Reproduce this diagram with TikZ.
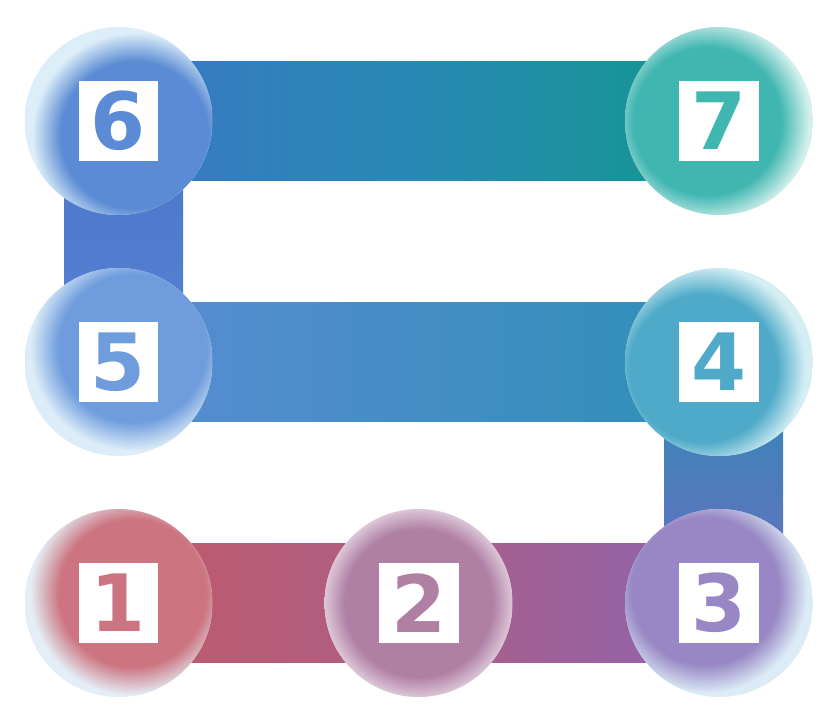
\documentclass[tikz,border=0pt]{standalone}
\usepackage{fontspec}
\newfontfamily\digitfont{DejaVu Sans}
\usetikzlibrary{calc}

\definecolor{c1in}{HTML}{CC7580}\definecolor{c1out}{HTML}{E4EEF6}
\definecolor{c2in}{HTML}{B07FA4}\definecolor{c2out}{HTML}{EEE4EC}
\definecolor{c3in}{HTML}{9887C4}\definecolor{c3out}{HTML}{DCECF6}
\definecolor{c4in}{HTML}{4EAAC8}\definecolor{c4out}{HTML}{D4EEF4}
\definecolor{c5in}{HTML}{6E9CDC}\definecolor{c5out}{HTML}{DCECF8}
\definecolor{c6in}{HTML}{5B8BD4}\definecolor{c6out}{HTML}{DCEEF8}
\definecolor{c7in}{HTML}{40B6B0}\definecolor{c7out}{HTML}{D4F0EE}
\colorlet{gin}{c6in}\colorlet{gout}{c6out}

\pgfdeclareradialshading[gin,gout]{glass}{\pgfpoint{0bp}{0bp}}{color(0bp)=(gin); color(18bp)=(gin); color(25bp)=(gout); color(50bp)=(gout)}

\begin{document}
\begin{tikzpicture}[x=0.02cm, y=-0.02cm,
  ball/.style n args={4}{circle, minimum size=3.76cm, inner sep=0pt,
    path picture={\colorlet{gin}{#1}\colorlet{gout}{#2}
      \fill[gout] (path picture bounding box.south west) rectangle (path picture bounding box.north east);
      \shade[shading=glass] ($(path picture bounding box.center)+(#3,#4)$) circle [radius=2.05cm];}},
  digitbox/.style={fill=white, minimum size=1.6cm, inner sep=0pt,
    font=\digitfont\bfseries\fontsize{45}{45}\selectfont}]
  \useasboundingbox (0,0) rectangle (837,725);

  \coordinate (p1) at (118.5,603);
  \coordinate (p2) at (418.5,603);
  \coordinate (p3) at (719,603);
  \coordinate (p4) at (719,362);
  \coordinate (p5) at (118.5,362);
  \coordinate (p6) at (118.5,121);
  \coordinate (p7) at (719,121);

  \shade[top color={rgb,255:red,74;green,120;blue,203}, bottom color={rgb,255:red,88;green,128;blue,210}]
    ($(p6)+(-54.5,0)$) rectangle ($(p5)+(64.5,0)$);
  \shade[top color={rgb,255:red,46;green,138;blue,182}, bottom color={rgb,255:red,108;green,110;blue,192}]
    ($(p4)+(-55,0)$) rectangle ($(p3)+(64,0)$);
  \shade[left color={rgb,255:red,58;green,120;blue,196}, right color={rgb,255:red,18;green,152;blue,143}, middle color={rgb,255:red,40;green,137;blue,180}]
    ($(p6)+(0,-59.5)$) rectangle ($(p7)+(0,59.5)$);
  \shade[left color={rgb,255:red,90;green,140;blue,212}, right color={rgb,255:red,46;green,143;blue,182}]
    ($(p5)+(0,-59.5)$) rectangle ($(p4)+(0,59.5)$);
  \shade[left color={rgb,255:red,192;green,90;blue,106}, right color={rgb,255:red,140;green,100;blue,174}, middle color={rgb,255:red,172;green,94;blue,134}]
    ($(p1)+(0,-59.5)$) rectangle ($(p3)+(0,59.5)$);

  \node[ball={c1in}{c1out}{14}{-10}] (b1) at (p1) {};
  \node[ball={c2in}{c2out}{0}{0}] (b2) at (p2) {};
  \node[ball={c3in}{c3out}{-14}{-12}] (b3) at (p3) {};
  \node[ball={c4in}{c4out}{-16}{6}] (b4) at (p4) {};
  \node[ball={c5in}{c5out}{14}{-14}] (b5) at (p5) {};
  \node[ball={c6in}{c6out}{16}{14}] (b6) at (p6) {};
  \node[ball={c7in}{c7out}{-12}{0}] (b7) at (p7) {};

  \node[digitbox, text=c1in] (d1) at (b1) {1};
  \node[digitbox, text=c2in] (d2) at (b2) {2};
  \node[digitbox, text=c3in] (d3) at (b3) {3};
  \node[digitbox, text=c4in] (d4) at (b4) {4};
  \node[digitbox, text=c5in] (d5) at (b5) {5};
  \node[digitbox, text=c6in] (d6) at (b6) {6};
  \node[digitbox, text=c7in] (d7) at (b7) {7};
\end{tikzpicture}
\end{document}
